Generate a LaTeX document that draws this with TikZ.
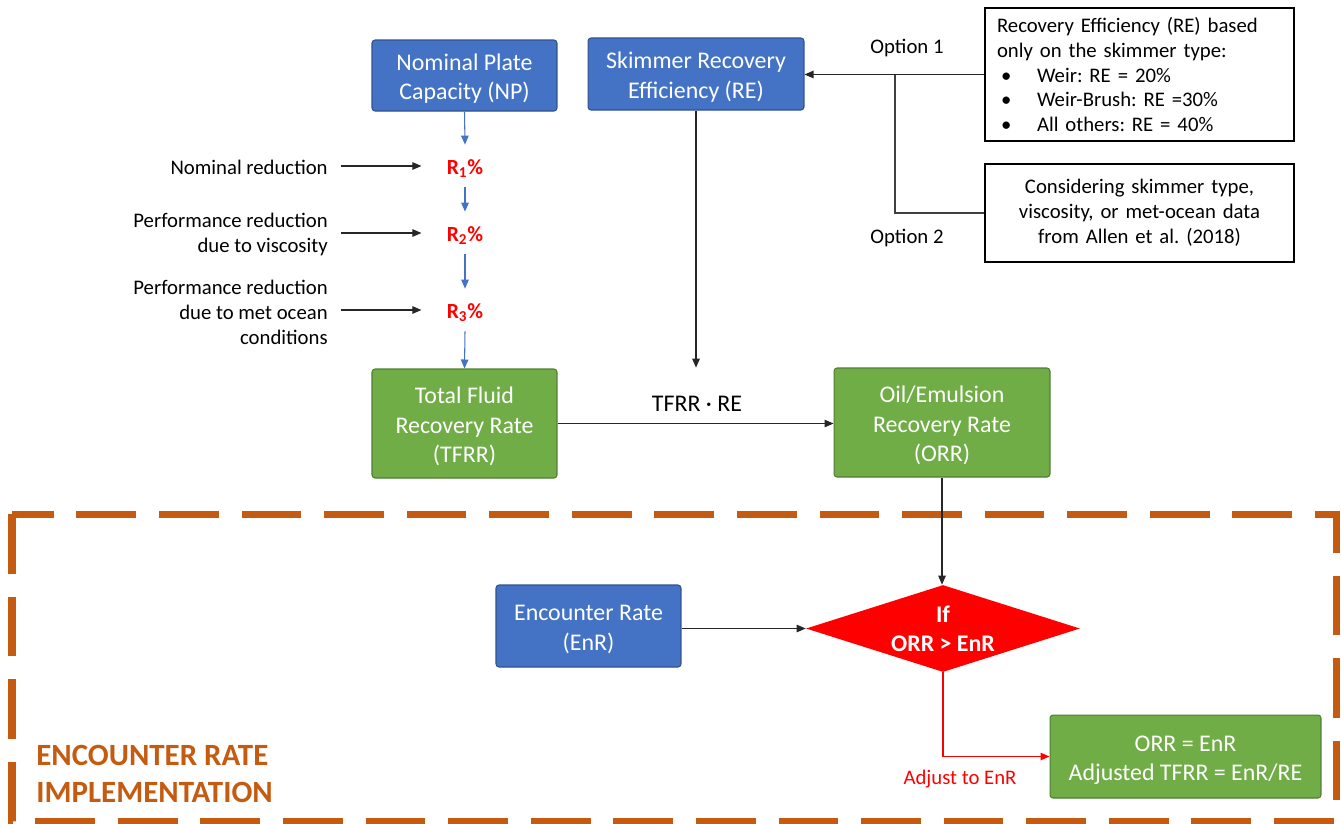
\documentclass[tikz,border=0pt]{standalone}
\usepackage{fontspec}
\setmainfont{Carlito}
\usetikzlibrary{arrows.meta,shapes.geometric}

\definecolor{boxblue}{HTML}{4472C4}
\definecolor{blueedge}{HTML}{2F528F}
\definecolor{boxgreen}{HTML}{70AD47}
\definecolor{greenedge}{HTML}{507E32}
\definecolor{frameorange}{HTML}{C55A11}

% bullet with the indent used in the option list
\newcommand\optbullet{\makebox[0.8cm][l]{\hspace{0.08cm}•}}
% struts that fix the first and last line of a box text
\newcommand\boxtop{\rule{0pt}{0.5cm}}
\newcommand\boxbot{\rule[-0.12cm]{0pt}{0.12cm}}

\begin{document}
\frenchspacing
\begin{tikzpicture}[x=0.02cm,y=-0.02cm,
  bigfont/.style={font=\fontsize{13.6pt}{17pt}\selectfont},
  smallfont/.style={font=\fontsize{11.8pt}{14.2pt}\selectfont},
  box/.style={rounded corners=0.06cm, line width=0.6pt, text=white,
    align=center, inner sep=0, bigfont},
  bluebox/.style={box, fill=boxblue, draw=blueedge},
  greenbox/.style={box, fill=boxgreen, draw=greenedge},
  decision/.style={diamond, fill=red, draw=none, inner sep=0,
    minimum width=5.48cm, minimum height=1.74cm},
  optbox/.style={draw=black, line width=0.9pt, smallfont, inner xsep=0.24cm,
    inner ysep=0, text width=5.7cm, minimum width=6.18cm},
  lbl/.style={smallfont, align=right, inner xsep=0.26cm, inner ysep=0, anchor=east},
  rstep/.style={text=red, font=\bfseries\fontsize{12.3pt}{14pt}\selectfont,
    text height=0.58cm, text depth=0.26cm, inner xsep=0.5cm, inner ysep=0, anchor=base},
  tip/.style={-{Triangle[length=0.18cm,width=0.15cm]}},
  arr/.style={tip, line width=0.6pt, draw=black!85},
  bluearr/.style={tip, line width=0.6pt, draw=boxblue},
  redarr/.style={tip, line width=0.6pt, draw=red},
  plainline/.style={line width=0.6pt, draw=black!75},
]
\useasboundingbox (0,0) rectangle (1341,823);

% dashed frame of the encounter-rate block
\draw[frameorange, line width=4pt, dash pattern=on 34pt off 13pt]
  (12,514) rectangle (1336,821);
\node[font=\bfseries\fontsize{17.6pt}{21.5pt}\selectfont, text=frameorange,
  align=left, anchor=west, inner sep=0] (enc) at (36,774)
  {ENCOUNTER RATE\\IMPLEMENTATION};

% main boxes
\node[bluebox, minimum width=3.70cm, minimum height=1.42cm] (np) at (464.5,75.5)
  {\boxtop Nominal Plate\\Capacity (NP)\boxbot};
\node[bluebox, minimum width=4.32cm, minimum height=1.44cm] (re) at (696,74)
  {\boxtop Skimmer Recovery\\Efficiency (RE)\boxbot};
\node[greenbox, minimum width=3.70cm, minimum height=2.18cm] (tfrr) at (464.5,423.5)
  {\boxtop Total Fluid\\Recovery Rate\\(TFRR)\boxbot};
\node[greenbox, minimum width=4.32cm, minimum height=2.18cm] (orr) at (942,422.5)
  {\boxtop Oil/Emulsion\\Recovery Rate\\(ORR)\boxbot};
\node[bluebox, minimum width=3.70cm, minimum height=1.64cm] (enr) at (588.5,626)
  {\boxtop Encounter Rate\\(EnR)\boxbot};
\node[greenbox, minimum width=5.42cm, minimum height=1.66cm] (adj) at (1185.5,756.5)
  {\boxtop ORR = EnR\\Adjusted TFRR = EnR/RE\boxbot};
\node[decision, label={[text=white, align=center, inner sep=0,
  font=\bfseries\fontsize{13.6pt}{16.5pt}\selectfont]center:{If\\ORR > EnR}}]
  (dec) at (943,628.5) {};

% reduction steps
\node[rstep] (r1) at (465,174) {R\textsubscript{1}\%};
\node[rstep] (r2) at (465,241) {R\textsubscript{2}\%};
\node[rstep] (r3) at (465,318) {R\textsubscript{3}\%};

\node[lbl] (l1) at (341,167) {Nominal reduction};
\node[lbl] (l2) at (341,234) {Performance reduction\\due to viscosity};
\node[lbl] (l3) at (341,312) {Performance reduction\\due to met ocean\\conditions};

\draw[bluearr] (np.south) -- (r1.north);
\draw[bluearr] (r1.south) -- (r2.north);
\draw[bluearr] (r2.south) -- (r3.north);
\draw[bluearr] (r3.south) -- (tfrr.north);

\draw[arr] (l1.east |- r1.west) -- (r1.west);
\draw[arr] (l2.east |- r2.west) -- (r2.west);
\draw[arr] (l3.east |- r3.west) -- (r3.west);

% recovery rate product
\node[bigfont, anchor=base, text height=0.32cm, text depth=0, inner xsep=0,
  inner ysep=0.54cm] (prod) at (697,411) {TFRR · RE};
\draw[arr] (re.south) -- (re.south |- prod.north);
\draw[arr] (tfrr.east) -- (tfrr.east -| orr.west);

% encounter rate check
\draw[arr] (orr.south) -- (orr.south |- dec.north);
\draw[arr] (enr.east |- dec.west) -- (dec.west);
\draw[redarr] (dec.south) |- (adj.west);
\node[smallfont, text=red] (adjlbl) at (960,779) {Adjust to EnR};

% recovery efficiency options
\node[optbox, align=left, minimum height=2.66cm] (opt1) at (1139.5,74.5)
  {Recovery Efficiency (RE) based\\only on the skimmer type:\\
   \optbullet Weir: RE = 20\%\\
   \optbullet Weir-Brush: RE =30\%\\
   \optbullet All others: RE = 40\%};
\node[optbox, align=center, minimum height=1.96cm] (opt2) at (1139.5,213)
  {Considering skimmer type,\\viscosity, or met-ocean data\\from Allen et al. (2018)};

\coordinate (split) at (895,74.5);
\draw[arr] (opt1.west) -- (opt1.west -| re.east);
\draw[plainline] (split) |- (opt2.west);
\node[smallfont] (o1) at (907,48) {Option 1};
\node[smallfont] (o2) at (907,238) {Option 2};
\end{tikzpicture}
\end{document}
